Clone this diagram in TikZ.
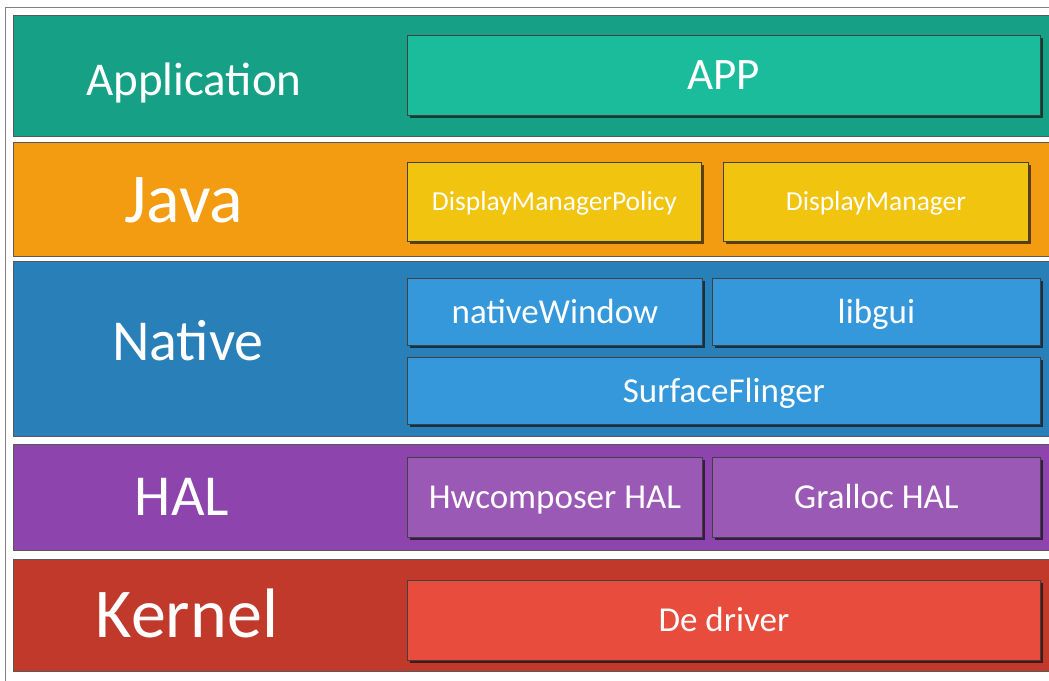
\documentclass[tikz,border=0pt]{standalone}
\usepackage{fontspec}
\setmainfont{Carlito}
\usetikzlibrary{shadows}

\definecolor{appBand}{HTML}{16A085}
\definecolor{appBox}{HTML}{1ABC9C}
\definecolor{javaBand}{HTML}{F39C12}
\definecolor{javaBox}{HTML}{F1C40F}
\definecolor{nativeBand}{HTML}{2980B9}
\definecolor{nativeBox}{HTML}{3498DB}
\definecolor{halBand}{HTML}{8E44AD}
\definecolor{halBox}{HTML}{9B59B6}
\definecolor{kernelBand}{HTML}{C0392B}
\definecolor{kernelBox}{HTML}{E74C3C}

\begin{document}
\begin{tikzpicture}[x=1pt, y=-1pt,
		layer/.style={draw=black!65, line width=1pt, anchor=north west, inner sep=0pt, minimum width=1060pt},
		layername/.style={anchor=base, text=white, inner sep=0pt},
		unit/.style={draw=black!75, line width=0.8pt, anchor=north west, text=white, inner sep=0pt,
			font=\fontsize{35}{35}\selectfont, text height=22.5pt, text depth=0pt,
			drop shadow={shadow xshift=2.5pt, shadow yshift=-2.5pt, opacity=.6, fill=black}},
	]
		\def\xL{407};
		\def\xM{712};
		\def\xR{1040};

		\useasboundingbox (0,0) rectangle (1049,680);
		\fill[white] (0,0) rectangle (1049,680);
		\draw[gray, line width=1pt] (5,690) -- (5,7) -- (1060,7);

		% layers
		\node[layer, fill=appBand, minimum height=121pt] (appLayer) at (13,15) {};
		\node[layer, fill=javaBand, minimum height=114pt] (javaLayer) at (13,142) {};
		\node[layer, fill=nativeBand, minimum height=175pt] (nativeLayer) at (13,261) {};
		\node[layer, fill=halBand, minimum height=106pt] (halLayer) at (13,444) {};
		\node[layer, fill=kernelBand, minimum height=112pt] (kernelLayer) at (13,559) {};

		\begin{scope}[every node/.style={layername}]
			\node[font=\fontsize{47}{47}\selectfont] (appName) at (194,95) {Application};
			\node[font=\fontsize{70}{70}\selectfont] (javaName) at (184,222) {Java};
			\node[font=\fontsize{58}{58}\selectfont] (nativeName) at (188,360) {Native};
			\node[font=\fontsize{58}{58}\selectfont] (halName) at (182,515) {HAL};
			\node[font=\fontsize{70}{70}\selectfont] (kernelName) at (187,637) {Kernel};
		\end{scope}

		% blocks
		\node[unit, fill=appBox, minimum width=633pt, minimum height=80pt,
			font=\fontsize{45}{45}\selectfont, text height=29pt] (app) at (\xL,35) {APP};

		\node[unit, fill=javaBox, minimum width=294pt, minimum height=79pt,
			font=\fontsize{27.5}{27.5}\selectfont, text height=18pt] (policy) at (\xL,162) {DisplayManagerPolicy};
		\node[unit, fill=javaBox, minimum width=305pt, minimum height=79pt,
			font=\fontsize{27.5}{27.5}\selectfont, text height=18pt] (manager) at (723,162) {DisplayManager};

		\node[unit, fill=nativeBox, minimum width=295pt, minimum height=67pt] (window) at (\xL,278) {nativeWindow};
		\node[unit, fill=nativeBox, minimum width=328pt, minimum height=67pt] (libgui) at (\xM,278) {libgui};
		\node[unit, fill=nativeBox, minimum width=633pt, minimum height=67pt] (flinger) at (\xL,357) {SurfaceFlinger};

		\node[unit, fill=halBox, minimum width=295pt, minimum height=80pt] (hwc) at (\xL,457) {Hwcomposer HAL};
		\node[unit, fill=halBox, minimum width=328pt, minimum height=80pt] (gralloc) at (\xM,457) {Gralloc HAL};

		\node[unit, fill=kernelBox, minimum width=633pt, minimum height=80pt] (driver) at (\xL,580) {De driver};
	\end{tikzpicture}
\end{document}
